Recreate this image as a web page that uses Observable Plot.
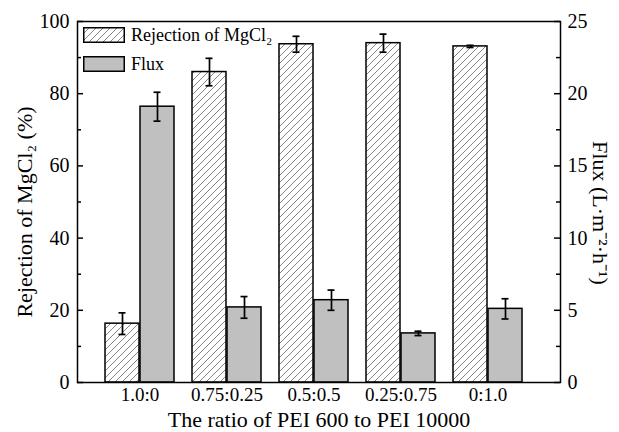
<!DOCTYPE html>
<html><head><meta charset="utf-8">
<script src="https://cdn.jsdelivr.net/npm/d3@7"></script>
<script src="https://cdn.jsdelivr.net/npm/@observablehq/plot@0.6"></script>
<style>
body{margin:0;background:#fff;font-family:"Liberation Serif",serif;}
#wrap{position:relative;width:619px;height:432px;}
#legend{position:absolute;left:83px;top:27px;font-size:18px;color:#000;font-family:"Liberation Serif",serif;}
.row{display:flex;align-items:center;height:16px;margin-bottom:13px;}
.row svg{margin-right:6px;}
svg text{font-family:"Liberation Serif",serif;}
</style></head>
<body><div id="wrap"><div id="legend"></div></div>
<script>
// ---- data ----
const ratios = ["1.0:0", "0.75:0.25", "0.5:0.5", "0.25:0.75", "0:1.0"];
const rejection = [16.3, 86.0, 93.7, 94.0, 93.1];
const rejectionErr = [3.0, 3.8, 2.2, 2.5, 0.3];
const flux = [19.1, 5.2, 5.7, 3.4, 5.1];
const fluxErr = [1.0, 0.75, 0.7, 0.15, 0.7];
const leftTicks = [0, 20, 40, 60, 80, 100];
const leftMinor = [10, 30, 50, 70, 90];
const rightTicks = [0, 5, 10, 15, 20, 25];
const seriesNames = ["Rejection of MgCl₂", "Flux"];
const yLabel = "Rejection of MgCl₂ (%)";
const y2Label = "Flux (L·m⁻²·h⁻¹)";
const xLabel = "The ratio of PEI 600 to PEI 10000";

// flux (0-25) is drawn against the rejection scale (0-100)
const fluxMax = 25, rejMax = 100, k = rejMax / fluxMax;
const data = ratios.map((r, i) => ({
  ratio: r, rej: rejection[i], rejErr: rejectionErr[i], flux: flux[i], fluxErr: fluxErr[i]
}));

// ---- layout ----
const W = 619, H = 432, mL = 77, mR = 59, mT = 21, mB = 50;
const innerW = W - mL - mR;
const pIn = 0.2045, pOut = 0.3466, n = ratios.length;
const step = innerW / (n - pIn + 2 * pOut);
const bw = step * (1 - pIn);
const cap = 4;
const ff = "Liberation Serif";

const plot = Plot.plot({
  width: W, height: H,
  marginLeft: mL, marginRight: mR, marginTop: mT, marginBottom: mB,
  style: {fontFamily: "'Liberation Serif', serif", fontSize: "16px", background: "white", color: "black"},
  x: {type: "band", domain: ratios, paddingInner: pIn, paddingOuter: pOut, align: 0.43},
  y: {domain: [0, rejMax]},
  marks: [
    Plot.barY(data, {x: "ratio", y: "rej", fill: "url(#hatch)", stroke: "black", strokeWidth: 1.5, insetRight: bw / 2}),
    Plot.barY(data, {x: "ratio", y: d => d.flux * k, fill: "#c0c0c0", stroke: "black", strokeWidth: 1.5, insetLeft: bw / 2}),
    // error bars
    Plot.ruleX(data, {x: "ratio", y1: d => d.rej - d.rejErr, y2: d => d.rej + d.rejErr, dx: -bw / 4, strokeWidth: 1.7}),
    Plot.tickY(data, {x: "ratio", y: d => d.rej - d.rejErr, insetLeft: bw / 4 - cap, insetRight: 3 * bw / 4 - cap, strokeWidth: 1.7}),
    Plot.tickY(data, {x: "ratio", y: d => d.rej + d.rejErr, insetLeft: bw / 4 - cap, insetRight: 3 * bw / 4 - cap, strokeWidth: 1.7}),
    Plot.ruleX(data, {x: "ratio", y1: d => (d.flux - d.fluxErr) * k, y2: d => (d.flux + d.fluxErr) * k, dx: bw / 4, strokeWidth: 1.7}),
    Plot.tickY(data, {x: "ratio", y: d => (d.flux - d.fluxErr) * k, insetLeft: 3 * bw / 4 - cap, insetRight: bw / 4 - cap, strokeWidth: 1.7}),
    Plot.tickY(data, {x: "ratio", y: d => (d.flux + d.fluxErr) * k, insetLeft: 3 * bw / 4 - cap, insetRight: bw / 4 - cap, strokeWidth: 1.7}),
    // inward ticks
    Plot.tickY(leftTicks, {y: d => d, insetRight: innerW - 6, strokeWidth: 1.5}),
    Plot.tickY(leftMinor, {y: d => d, insetRight: innerW - 4, strokeWidth: 1.5}),
    Plot.tickY(leftTicks, {y: d => d, insetLeft: innerW - 6, strokeWidth: 1.5}),
    Plot.tickY(leftMinor, {y: d => d, insetLeft: innerW - 4, strokeWidth: 1.5}),
    // axes
    Plot.axisY(leftTicks, {anchor: "left", tickSize: 0, tickPadding: 8, label: null, fontSize: 20, fontFamily: ff}),
    Plot.axisY(rightTicks.map(v => v * k), {anchor: "right", tickSize: 0, tickPadding: 7, label: null, fontSize: 20, fontFamily: ff, tickFormat: d => d / k}),
    Plot.axisX({tickSize: 0, tickPadding: 5, label: null, fontSize: 19, fontFamily: ff}),
    Plot.frame({stroke: "black", strokeWidth: 1.5}),
    // axis titles
    Plot.text([yLabel], {text: d => d, frameAnchor: "left", textAnchor: "middle", lineAnchor: "middle", dx: -53, dy: 10, rotate: -90, fontSize: 22, fontFamily: ff}),
    Plot.text([y2Label], {text: d => d, frameAnchor: "right", textAnchor: "middle", lineAnchor: "middle", dx: 40, dy: 11, rotate: 90, fontSize: 22, fontFamily: ff}),
    Plot.text([xLabel], {text: d => d, frameAnchor: "bottom", textAnchor: "middle", lineAnchor: "middle", dy: 37, fontSize: 22, fontFamily: ff})
  ]
});

d3.select(plot).insert("defs", ":first-child").html(
  `<pattern id="hatch" patternUnits="userSpaceOnUse" width="7" height="7">
     <rect width="7" height="7" fill="white"/>
     <path d="M-1,1 l2,-2 M0,7 l7,-7 M6,8 l2,-2" stroke="#666" stroke-width="0.8"/>
   </pattern>`);
document.getElementById("wrap").prepend(plot);

// legend (inside plot area, top-left)
const fills = ["url(#hatch)", "#c0c0c0"];
const legend = d3.select("#legend");
seriesNames.forEach((name, i) => {
  const row = legend.append("div").attr("class", "row");
  const s = row.append("svg").attr("width", 42).attr("height", 16);
  s.append("rect").attr("x", 0.75).attr("y", 0.75).attr("width", 40.5).attr("height", 14.5)
    .attr("fill", fills[i]).attr("stroke", "black").attr("stroke-width", 1.5);
  row.append("span").text(name);
});
</script>
</body></html>
